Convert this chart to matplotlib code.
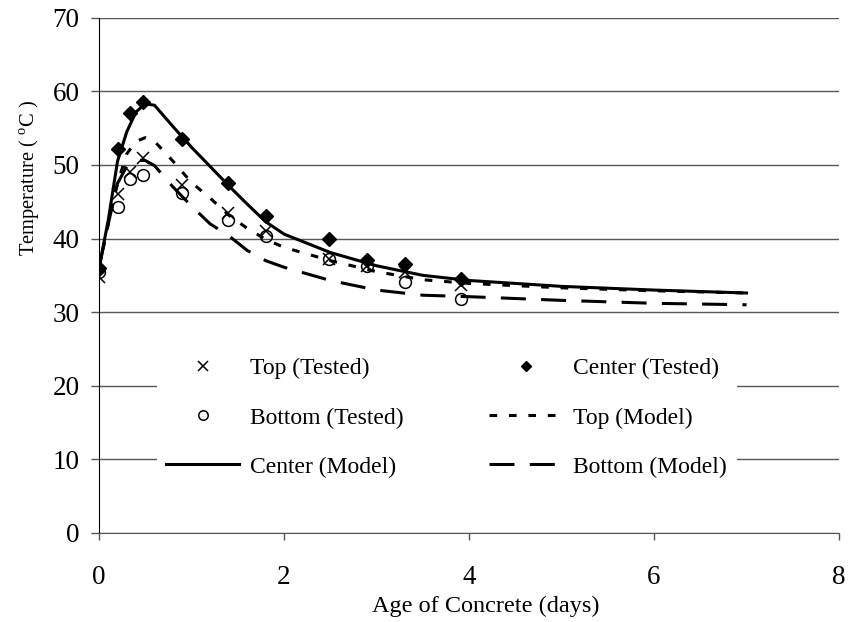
import matplotlib
matplotlib.use('Agg')
import matplotlib.pyplot as plt

plt.rcParams['font.family'] = ['Liberation Serif', 'DejaVu Serif']
plt.rcParams['mathtext.fontset'] = 'custom'
plt.rcParams['mathtext.rm'] = 'Liberation Serif'
plt.rcParams['lines.scale_dashes'] = False

GRID_COLOR = '#555555'

# measured temperatures (days, deg C)
t_tested = [0, 0.21, 0.33, 0.48, 0.90, 1.39, 1.80, 2.49, 2.90, 3.31, 3.91]
top_tested = [34.8, 46.0, 49.0, 50.9, 47.3, 43.4, 41.0, 37.2, 36.2, 35.5, 33.7]
center_tested = [36.0, 52.1, 57.1, 58.5, 53.5, 47.6, 43.0, 39.9, 37.1, 36.5, 34.5]
bottom_tested = [35.5, 44.3, 48.1, 48.6, 46.2, 42.5, 40.3, 37.2, 36.2, 34.1, 31.8]

# model predictions
t_model = [0, 0.1, 0.2, 0.3, 0.4, 0.5, 0.6, 0.8, 1.0, 1.2, 1.4, 1.6, 1.8,
           2.0, 2.5, 3.0, 3.5, 4.0, 5.0, 6.0, 7.0]
center_model = [36.0, 42.5, 50.5, 54.5, 57.2, 58.3, 58.1, 55.2, 52.4, 49.8, 47.2,
                44.7, 42.3, 40.6, 38.1, 36.3, 35.0, 34.3, 33.5, 33.0, 32.6]
top_model = [36.0, 42.0, 47.5, 51.5, 53.2, 53.7, 53.2, 50.5, 47.6, 45.5, 43.2,
             41.4, 39.9, 38.8, 37.0, 35.5, 34.4, 33.9, 33.3, 32.9, 32.6]
bottom_model = [36.0, 42.0, 47.5, 49.8, 50.6, 50.6, 49.9, 47.0, 44.4, 42.0, 40.4,
                38.4, 37.0, 36.1, 34.3, 33.0, 32.3, 32.1, 31.6, 31.2, 31.0]

fig = plt.figure(figsize=(8.5, 6.22), dpi=100)
ax = fig.add_axes([0.1165, 0.1431, 0.8706, 0.8285])

h_top, = ax.plot(t_tested, top_tested, 'x', color='black', ms=9, mew=1.1,
                 label='Top (Tested)', zorder=2)
h_center, = ax.plot(t_tested, center_tested, 'D', color='black', ms=7,
                    label='Center (Tested)', zorder=2)
h_bottom, = ax.plot(t_tested, bottom_tested, 'o', mfc='none', mec='black', ms=8.5,
                    mew=1.1, label='Bottom (Tested)', zorder=2)

h_top_m, = ax.plot(t_model, top_model, color='black', lw=2.2, dashes=(5.5, 8.5),
                   label='Top (Model)', zorder=3)
h_center_m, = ax.plot(t_model, center_model, color='black', lw=2.2,
                      label='Center (Model)', zorder=3)
h_bottom_m, = ax.plot(t_model, bottom_model, color='black', lw=2.2, dashes=(18, 11),
                      label='Bottom (Model)', zorder=3)

ax.set_xlim(0, 8)
ax.set_ylim(0, 70)
ax.set_xticks(range(0, 9, 2))
ax.set_yticks(range(0, 71, 10))
ax.yaxis.grid(True, color=GRID_COLOR, lw=1.0)
ax.set_axisbelow(True)

for side in ('top', 'right'):
    ax.spines[side].set_visible(False)
ax.spines['left'].set_color('black')
ax.spines['bottom'].set_color(GRID_COLOR)
ax.tick_params(axis='y', direction='out', length=6, width=1, color=GRID_COLOR,
               labelsize=19.5, pad=8)
ax.tick_params(axis='x', direction='out', length=5, width=1, color=GRID_COLOR,
               labelsize=19.5, pad=18)

ax.set_xlabel('Age of Concrete (days)', fontsize=17.5)
ax.xaxis.set_label_coords(0.522, -0.122)
ax.set_ylabel(r'Temperature ( $^{\mathrm{o}}$C )', fontsize=14.8)
ax.yaxis.set_label_coords(-0.077, 0.69)

handles = [h_top, h_bottom, h_center_m, h_center, h_top_m, h_bottom_m]
leg = ax.legend(handles=handles, labels=[h.get_label() for h in handles],
                ncol=2, loc='upper left', bbox_to_anchor=(0.062, 0.381),
                fontsize=17, frameon=True, facecolor='white', edgecolor='none',
                framealpha=1, fancybox=False, handlelength=3.1, handletextpad=0.47,
                labelspacing=1.17, columnspacing=3.6, borderpad=0.4, markerscale=0.8)

fig.savefig('out.png', dpi=100)
